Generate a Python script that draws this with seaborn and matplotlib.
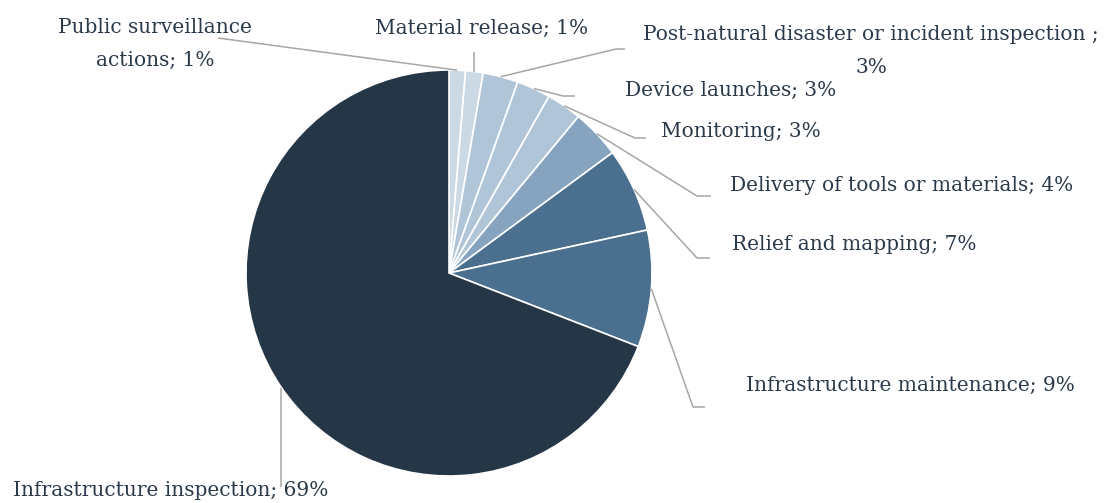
import matplotlib
matplotlib.use("Agg")
import matplotlib.pyplot as plt
import numpy as np
import seaborn as sns

# Share of drone use cases (percent)
categories = [
    "Public surveillance\nactions",
    "Material release",
    "Post-natural disaster or incident inspection ",
    "Device launches",
    "Monitoring",
    "Delivery of tools or materials",
    "Relief and mapping",
    "Infrastructure maintenance",
    "Infrastructure inspection",
]
shares = [1.3, 1.4, 2.8, 2.7, 2.8, 3.9, 6.7, 9.3, 69.1]
colors = ["#cbd9e5", "#cbd9e5", "#b0c5d7", "#b0c5d7", "#b0c5d7",
          "#86a4c0", "#4a6f8f", "#4a6f8f", "#253747"]

W, H = 1106, 503
sns.set_theme(style="white")
plt.rcParams["font.family"] = ["DejaVu Serif"]

fig = plt.figure(figsize=(W / 100, H / 100), dpi=100)
ax = fig.add_axes([0, 0, 1, 1])


def px(x, y):
    """Pixel position (origin top-left) to data coordinates."""
    return x, H - y


cx, cy = px(449, 273)
R = 203
wedges, _ = ax.pie(shares, colors=colors, startangle=90, counterclock=False,
                   center=(cx, cy), radius=R,
                   wedgeprops=dict(edgecolor="white", linewidth=1.2))
ax.set_xlim(0, W)
ax.set_ylim(0, H)
ax.set_aspect("equal")
ax.axis("off")

# label text centre and leader-line path (after the rim point), in pixels
layout = [
    ((155, 44), [(218, 38)]),
    ((482, 28), [None, (None, 52)]),
    ((871, 51), [(616, 49), (625, 49)]),
    ((731, 90), [(563, 96), (575, 96)]),
    ((741, 131), [(635, 138), (646, 138)]),
    ((902, 185), [(697, 196), (711, 196)]),
    ((854, 244), [(697, 258), (710, 258)]),
    ((910, 385), [(693, 407), (705, 407)]),
    ((171, 490), [None, (None, 487)]),
]

text_color = "#2b3a4b"
line_color = "#a6a6a6"
for w, name, val, (tpos, path) in zip(wedges, categories, shares, layout):
    mid = np.deg2rad((w.theta1 + w.theta2) / 2)
    sx, sy = cx + R * np.cos(mid), cy + R * np.sin(mid)
    pts = [(sx, sy)]
    for p in path:
        if p is None:
            continue
        x, y = p
        if x is None:
            x = sx
        pts.append(px(x, y))
    xs, ys = zip(*pts)
    ax.plot(xs, ys, color=line_color, lw=1.1, solid_capstyle="butt", zorder=1)
    sep = "\n" if name.startswith("Post-natural") else " "
    label = f"{name};{sep}{round(val)}%"
    tx, ty = px(*tpos)
    ax.text(tx, ty, label, ha="center", va="center", multialignment="center",
            fontsize=14.5, color=text_color, linespacing=1.95)

fig.savefig("out.png", dpi=100)
